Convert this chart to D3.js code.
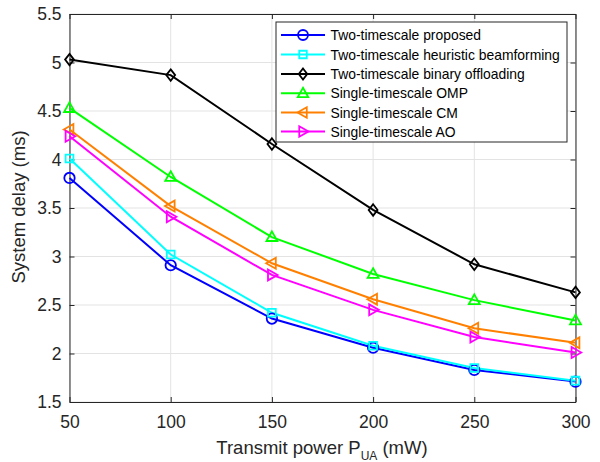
<!DOCTYPE html>
<html><head><meta charset="utf-8">
<script src="https://d3js.org/d3.v7.min.js"></script>
<style>body{margin:0;background:#fff}svg{display:block;font-family:"Liberation Sans",Arial,sans-serif}</style>
</head><body><svg id="c" width="600" height="462"></svg>
<script>
const powers = [50, 100, 150, 200, 250, 300];
const xTicks = [50, 100, 150, 200, 250, 300];
const yTicks = [1.5, 2, 2.5, 3, 3.5, 4, 4.5, 5, 5.5];
const seriesNames = ["Two-timescale proposed","Two-timescale heuristic beamforming","Two-timescale binary offloading","Single-timescale OMP","Single-timescale CM","Single-timescale AO"];
const proposed = [3.81, 2.91, 2.36, 2.06, 1.83, 1.71];
const heuristic = [4.01, 3.02, 2.42, 2.08, 1.85, 1.72];
const binary = [5.03, 4.87, 4.16, 3.48, 2.92, 2.63];
const omp = [4.53, 3.82, 3.20, 2.82, 2.55, 2.34];
const cm = [4.31, 3.52, 2.93, 2.56, 2.26, 2.11];
const ao = [4.24, 3.41, 2.81, 2.45, 2.17, 2.01];
const colors = ["#0000ff","#00ffff","#000000","#00ff00","#ff8000","#ff00ff"];
const markers = ["circle","square","diamond","triUp","triLeft","triRight"];
const allSeries = [proposed, heuristic, binary, omp, cm, ao];

const svg = d3.select("#c");
const L = 69.5, R = 575.5, T = 14, B = 402;
const x = d3.scaleLinear().domain([50, 300]).range([L, R]);
const y = d3.scaleLinear().domain([1.5, 5.5]).range([B, T]);
const txt = "#262626";

// grid
const g = svg.append("g");
g.selectAll(".gx").data(xTicks).enter().append("line")
  .attr("x1", d => x(d)).attr("x2", d => x(d)).attr("y1", T).attr("y2", B)
  .attr("stroke", "#e3e3e3").attr("stroke-width", 1);
g.selectAll(".gy").data(yTicks).enter().append("line")
  .attr("y1", d => y(d)).attr("y2", d => y(d)).attr("x1", L).attr("x2", R)
  .attr("stroke", "#e3e3e3").attr("stroke-width", 1);

// axes
const fmt = d => String(d);
const ax = d3.axisBottom(x).tickValues(xTicks).tickFormat(fmt).tickSizeInner(-5).tickSizeOuter(0).tickPadding(14);
const ay = d3.axisLeft(y).tickValues(yTicks).tickFormat(fmt).tickSizeInner(-5).tickSizeOuter(0).tickPadding(8);
const axT = d3.axisTop(x).tickValues(xTicks).tickFormat("").tickSizeInner(-5).tickSizeOuter(0);
const ayR = d3.axisRight(y).tickValues(yTicks).tickFormat("").tickSizeInner(-5).tickSizeOuter(0);
function style(sel){ sel.selectAll("path").attr("stroke","#262626").attr("stroke-width",1);
  sel.selectAll("line").attr("stroke","#262626");
  sel.selectAll("text").attr("fill",txt).attr("font-size","17.5px").attr("font-family","Liberation Sans, Arial, sans-serif"); }
svg.append("g").attr("transform",`translate(0,${B})`).call(ax).call(style);
svg.append("g").attr("transform",`translate(${L},0)`).call(ay).call(style);
svg.append("g").attr("transform",`translate(0,${T})`).call(axT).call(style);
svg.append("g").attr("transform",`translate(${R},0)`).call(ayR).call(style);

// lines & markers
function markerPath(type, s){
  switch(type){
    case "circle": return d3.symbol(d3.symbolCircle, Math.PI*s*s)();
    case "square": { const h=s*0.75; return `M${-h},${-h}H${h}V${h}H${-h}Z`; }
    case "diamond": return `M0,${-s*1.1}L${s*0.85},0L0,${s*1.1}L${-s*0.85},0Z`;
    case "triUp": return `M0,${-s*1.1}L${s*1.05},${s*0.75}L${-s*1.05},${s*0.75}Z`;
    case "triLeft": return `M${-s*1.1},0L${s*0.75},${-s*1.05}L${s*0.75},${s*1.05}Z`;
    case "triRight": return `M${s*1.1},0L${-s*0.75},${-s*1.05}L${-s*0.75},${s*1.05}Z`;
  }
}
const line = d3.line().x((d,i) => x(powers[i])).y(d => y(d));
allSeries.forEach((vals, k) => {
  svg.append("path").datum(vals).attr("d", line).attr("fill","none")
    .attr("stroke", colors[k]).attr("stroke-width", 2);
});
allSeries.forEach((vals, k) => {
  svg.selectAll(null).data(vals).enter().append("path")
    .attr("transform", (d,i) => `translate(${x(powers[i])},${y(d)})`)
    .attr("d", markerPath(markers[k], 5.2)).attr("fill","none")
    .attr("stroke", colors[k]).attr("stroke-width", 1.8);
});

// legend
const lg = svg.append("g");
lg.append("rect").attr("x",276).attr("y",22).attr("width",291).attr("height",120)
  .attr("fill","#fff").attr("stroke","#262626").attr("stroke-width",1);
const rowY = [35, 54.5, 74, 93.3, 112.5, 131.5];
seriesNames.forEach((n, k) => {
  lg.append("line").attr("x1",281).attr("x2",325).attr("y1",rowY[k]).attr("y2",rowY[k])
    .attr("stroke",colors[k]).attr("stroke-width",2);
  lg.append("path").attr("transform",`translate(303,${rowY[k]})`).attr("d",markerPath(markers[k],5))
    .attr("fill","none").attr("stroke",colors[k]).attr("stroke-width",1.8);
  lg.append("text").attr("x",330.5).attr("y",rowY[k]+5).attr("font-size","13.9px").attr("fill","#000").text(n);
});

// axis labels
const xl = svg.append("text").attr("x",322).attr("y",454).attr("text-anchor","middle")
  .attr("font-size","18.5px").attr("fill",txt);
xl.append("tspan").text("Transmit power P");
xl.append("tspan").attr("font-size","12px").attr("dy",6).text("UA");
xl.append("tspan").attr("dy",-6).text(" (mW)");
svg.append("text").attr("transform","translate(25,207) rotate(-90)").attr("text-anchor","middle")
  .attr("font-size","18.5px").attr("fill",txt).text("System delay (ms)");
</script></body></html>
